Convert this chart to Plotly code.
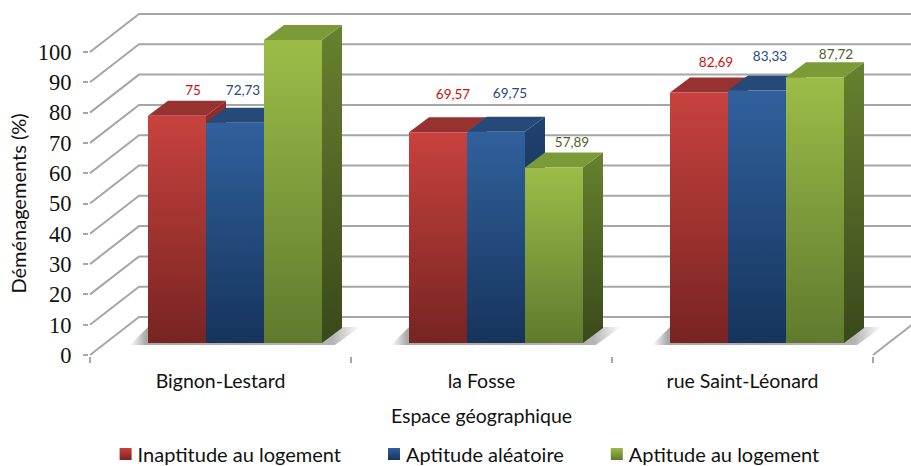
import plotly.graph_objects as go

categories = ["Bignon-Lestard", "la Fosse", "rue Saint-Léonard"]
inaptitude = [75, 69.57, 82.69]
aleatoire = [72.73, 69.75, 83.33]
aptitude = [100, 57.89, 87.72]
y_ticks = list(range(0, 101, 10))
names = ["Inaptitude au logement", "Aptitude aléatoire", "Aptitude au logement"]

PX_X, PX_Y = 261.0, 3.03   # pixels per axis unit
BASE = 12 / PX_Y
BW = 58 / PX_X
START = 58 / PX_X
DX, DY = 20 / PX_X, 15 / PX_Y
WX, WY = 49 / PX_X, 38 / PX_Y
GRID = "#a6a6a6"
SANS = "Lato"

styles = [
    dict(top="#c8423e", bot="#772422", side=("#8f2f2c", "#5a1a18"), cap="#963230", text="#cc0f0f"),
    dict(top="#30619d", bot="#16345c", side=("#20426f", "#102642"), cap="#254a79", text="#1f497d"),
    dict(top="#9cbd48", bot="#5f7a2e", side=("#67822f", "#39491a"), cap="#7b9b38", text="#4f6228"),
]
label_off = [
    [(16, 24), (8, 31), (17, 20.5)],
    [(15, 37), (14, 37), (18, 24)],
    [(17, 29), (13, 33), (21, 22)],
]

fig = go.Figure()

# walls
gx, gy = [], []
for t in y_ticks:
    gx += [0, WX, 3 + WX, None]
    gy += [t, t + WY, t + WY, None]
gx += [3, 3 + WX, None]
gy += [0, WY, None]
fig.add_trace(go.Scatter(x=gx, y=gy, mode="lines", line=dict(color=GRID, width=2),
                         cliponaxis=False, showlegend=False, hoverinfo="skip", zorder=0))

# floor shadows
for c in range(3):
    x0 = c + START
    x1 = x0 + 3 * BW
    left = x0 - 18 / PX_X
    right = x1 + DX + 18 / PX_X
    fig.add_trace(go.Scatter(
        x=[left, x1 + 13 / PX_X, right, x0, left],
        y=[BASE - 2 / PX_Y, BASE - 2 / PX_Y, BASE + DY + 1 / PX_Y, BASE + DY + 1 / PX_Y, BASE - 2 / PX_Y],
        mode="none", fill="toself",
        fillgradient=dict(type="horizontal", start=left, stop=right,
                          colorscale=[[0, "#ffffff"], [0.07, "#a8a8a8"], [0.88, "#b4b4b4"], [1, "#ffffff"]]),
        cliponaxis=False, showlegend=False, hoverinfo="skip", zorder=1))

# bars, back to front
for s, vals in enumerate([inaptitude, aleatoire, aptitude]):
    st = styles[s]
    xs = [c + START + s * BW + BW / 2 for c in range(3)]
    for x, v in zip(xs, vals):
        xl, xr = x - BW / 2, x + BW / 2
        top = BASE + v
        fig.add_trace(go.Scatter(
            x=[xr, xr + DX, xr + DX, xr, xr], y=[BASE, BASE + DY, top + DY, top, BASE],
            mode="none", fill="toself",
            fillgradient=dict(type="vertical", start=top + DY, stop=BASE,
                              colorscale=[[0, st["side"][0]], [1, st["side"][1]]]),
            cliponaxis=False, showlegend=False, hoverinfo="skip", zorder=2 + 2 * s))
        fig.add_trace(go.Scatter(
            x=[xl, xl + DX, xr + DX, xr, xl], y=[top, top + DY, top + DY, top, top],
            mode="none", fill="toself", fillcolor=st["cap"],
            cliponaxis=False, showlegend=False, hoverinfo="skip", zorder=2 + 2 * s))
    fig.add_trace(go.Bar(x=xs, y=vals, base=[BASE] * 3, width=BW, name=names[s],
                         marker=dict(color=st["top"], line=dict(width=0)),
                         cliponaxis=False, zorder=3 + 2 * s))

# data labels
for s, vals in enumerate([inaptitude, aleatoire, aptitude]):
    st = styles[s]
    fig.add_trace(go.Scatter(
        x=[c + START + s * BW + BW / 2 + label_off[c][s][0] / PX_X for c in range(3)],
        y=[BASE + v + label_off[c][s][1] / PX_Y for c, v in enumerate(vals)],
        mode="text", text=[f"{v:g}".replace(".", ",") for v in vals],
        textposition="middle center", textfont=dict(family=SANS, size=13.5, color=st["text"]),
        cliponaxis=False, showlegend=False, hoverinfo="skip", zorder=10))

fig.update_layout(
    width=911, height=466, autosize=False,
    margin=dict(l=90, r=38, t=52, b=111, autoexpand=False),
    paper_bgcolor="white", plot_bgcolor="rgba(0,0,0,0)",
    barmode="overlay", showlegend=True,
    legend=dict(orientation="h", xref="container", yref="container", x=0.0852, y=0.026,
                xanchor="left", yanchor="middle", itemwidth=50,
                font=dict(family=SANS, size=20, color="#111111"), traceorder="normal",
                bgcolor="rgba(0,0,0,0)", itemclick=False, itemdoubleclick=False),
    xaxis=dict(range=[0, 3], tickmode="array", tickvals=[0.5, 1.5, 2.5], ticktext=categories,
               ticks="", ticklabelstandoff=8, showgrid=False, zeroline=False, automargin=False,
               showline=True, linecolor=GRID, linewidth=2,
               minor=dict(tickmode="array", tickvals=[0, 1, 2, 3], ticks="outside",
                          ticklen=6, tickwidth=2, tickcolor=GRID, showgrid=False),
               tickfont=dict(family=SANS, size=19.5, color="#111111"),
               title=dict(text="Espace géographique", standoff=18,
                          font=dict(family=SANS, size=19.5, color="#111111"))),
    yaxis=dict(range=[0, 100], tickmode="array", tickvals=y_ticks, ticks="outside",
               ticklen=5, tickwidth=2, tickcolor=GRID, showgrid=False, zeroline=False, automargin=False,
               showline=True, linecolor=GRID, linewidth=2, ticklabelstandoff=7,
               tickfont=dict(family="'Liberation Serif', 'Times New Roman', serif", size=22.5, color="#111111"),
               title=dict(text="Déménagements (%)", standoff=6,
                          font=dict(family=SANS, size=20, color="#111111"))),
)

grad_defs = [(st["top"], st["top"], st["bot"]) for st in styles]
post = """
document.body.style.margin='0';document.body.style.overflow='hidden';
var gd=document.getElementById('{plot_id}');
var tops=%s, bots=%s;
function paint(){
  var svg=gd.querySelector('svg.main-svg');
  var ns='http://www.w3.org/2000/svg';
  var defs=svg.querySelector('defs');
  function mk(i){
    var id='bargrad'+i;
    if(svg.querySelector('#'+id))return id;
    var g=document.createElementNS(ns,'linearGradient');
    g.setAttribute('id',id);g.setAttribute('x1','0');g.setAttribute('y1','0');g.setAttribute('x2','0');g.setAttribute('y2','1');
    [[0,tops[i]],[1,bots[i]]].forEach(function(p){var t=document.createElementNS(ns,'stop');t.setAttribute('offset',p[0]);t.setAttribute('stop-color',p[1]);g.appendChild(t);});
    defs.appendChild(g);return id;
  }
  gd.querySelectorAll('.trace.bars').forEach(function(tr,i){
    tr.querySelectorAll('path').forEach(function(p){p.style.fill='url(#'+mk(i)+')';});
  });
  gd.querySelectorAll('.legend .traces').forEach(function(tr,i){
    var p=tr.querySelector('.legendbar path, .legendpoints path');
    if(p){p.style.fill='url(#'+mk(i)+')';}
    var lp=tr.querySelector('.legendpoints');
    if(lp){lp.setAttribute('transform','translate(%d,0)');}
  });
  gd.querySelectorAll('.cartesianlayer [clip-path]').forEach(function(n){n.removeAttribute('clip-path');});
}
paint();
""" % (str([g[1] for g in grad_defs]), str([g[2] for g in grad_defs]), 18)

fig.write_html("out.html", post_script=post, config=dict(displayModeBar=False))
